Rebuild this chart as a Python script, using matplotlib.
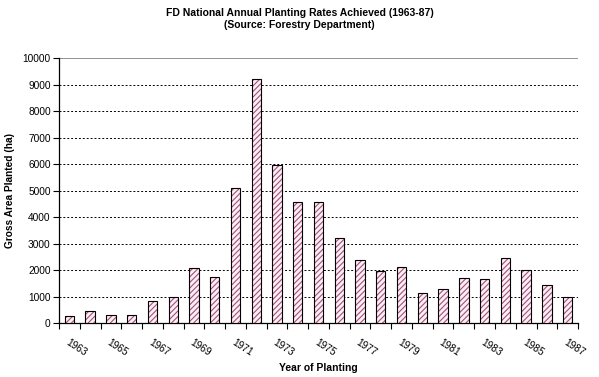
import matplotlib
matplotlib.use('Agg')
import matplotlib.pyplot as plt
import matplotlib.transforms as mtransforms
import numpy as np

years = list(range(1963, 1988))
area = [250, 450, 320, 300, 850, 1000, 2080, 1750, 5100, 9200,
        5950, 4580, 4580, 3200, 2380, 1950, 2120, 1150, 1300, 1700,
        1650, 2450, 2000, 1450, 1000]
yticks = list(range(0, 10001, 1000))

plt.rcParams['font.family'] = ['Liberation Sans', 'DejaVu Sans']
plt.rcParams['hatch.linewidth'] = 0.8

fig = plt.figure(figsize=(5.99, 3.77), dpi=100)
ax = fig.add_axes([0.0985, 0.143, 0.8665, 0.703])

x = np.arange(len(years))
# hatch in purple, then outline in black on top
ax.bar(x, area, width=0.45, color='#fdeef5', edgecolor='#a0507a',
       hatch='//////', linewidth=0, zorder=3)
ax.bar(x, area, width=0.45, fill=False, edgecolor='black',
       linewidth=0.8, zorder=4)

ax.set_xlim(-0.5, len(years) - 0.5)
ax.set_ylim(0, 10000)
ax.set_yticks(yticks)
ax.set_yticklabels([str(v) for v in yticks], fontsize=7.3)
for v in yticks[1:-1]:
    ax.axhline(v, color='black', linestyle=(0, (2, 2)), linewidth=0.7, zorder=1)
ax.axhline(10000, color='#808080', linewidth=1.2, zorder=1)

ax.set_xticks(x[::2])
ax.set_xticklabels([str(y) for y in years[::2]], fontsize=7.3, rotation=-33,
                   ha='left', va='top', rotation_mode='anchor')
shift = mtransforms.ScaledTranslation(5 / 100, 0, fig.dpi_scale_trans)
for lab in ax.get_xticklabels():
    lab.set_transform(lab.get_transform() + shift)
ax.set_xticks(np.arange(-0.5, len(years)), minor=True)
ax.tick_params(axis='x', which='major', length=0, pad=10)
ax.tick_params(axis='x', which='minor', length=4, width=0.8, direction='out')
ax.tick_params(axis='y', length=4, width=0.8, pad=2)

for s in ['top', 'right']:
    ax.spines[s].set_visible(False)
ax.spines['left'].set_linewidth(0.9)
ax.spines['bottom'].set_linewidth(0.9)

ax.set_ylabel('Gross Area Planted (ha)', fontsize=7.3, fontweight='bold')
ax.yaxis.set_label_coords(-0.085, 0.5)
ax.set_xlabel('Year of Planting', fontsize=7.5, fontweight='bold')
ax.xaxis.set_label_coords(0.5, -0.15)

fig.text(0.5, 0.98, 'FD National Annual Planting Rates Achieved (1963-87)\n(Source: Forestry Department)',
         ha='center', va='top', fontsize=7.5, fontweight='bold', linespacing=1.25)

fig.savefig('out.png', dpi=100)
